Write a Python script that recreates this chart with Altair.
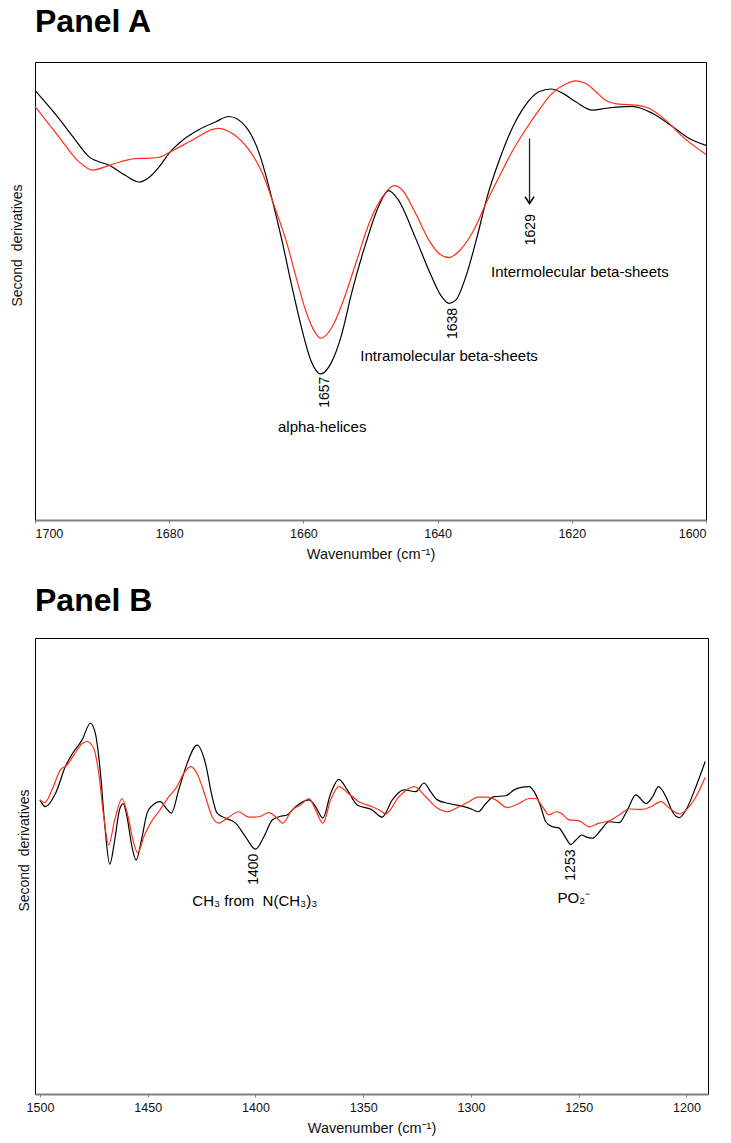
import altair as alt
import pandas as pd

FONT = "Liberation Sans"

# ---------------- Panel A (1700-1600 cm-1) ----------------
a_black_w = [1700, 1696.9, 1694.2, 1692.1, 1688.6, 1686.5, 1684.5, 1683.0, 1681.5, 1680.0,
             1678.0, 1675.6, 1673.1, 1671.1, 1668.6, 1666.6, 1665.4, 1664.4, 1663.1, 1661.7,
             1660.2, 1658.9, 1657.4, 1655.9, 1654.4, 1652.7, 1650.7, 1648.7, 1647.3, 1646.0,
             1643.3, 1641.0, 1639.5, 1638.3, 1637.3, 1635.8, 1634.1, 1632.6, 1630.8, 1628.9,
             1626.9, 1624.9, 1623.1, 1621.4, 1619.4, 1616.9, 1614.9, 1611.0, 1608.0, 1605.0,
             1602.5, 1600]
a_black_v = [93.8, 88.5, 83.4, 79.5, 77.2, 75.2, 73.8, 74.8, 77.1, 80.1,
             82.9, 85.2, 86.9, 88.1, 85.9, 80.1, 74.2, 68.4, 60.4, 50.9,
             41.5, 34.9, 31.9, 34.2, 40.0, 50.2, 60.4, 68.8, 71.9, 70.2,
             61.6, 53.5, 49.0, 47.3, 48.0, 53.1, 61.9, 70.6, 78.6, 85.5,
             90.6, 93.5, 94.1, 93.2, 91.3, 89.5, 89.9, 90.3, 88.8, 85.9,
             83.3, 81.8]
a_red_w = [1700, 1696.3, 1693.5, 1691.4, 1688.6, 1685.1, 1683.0, 1681.5, 1679.3, 1676.6,
           1672.8, 1670.6, 1668.1, 1666.1, 1664.4, 1662.6, 1661.1, 1659.7, 1658.2, 1657.4,
           1655.7, 1654.2, 1652.2, 1650.2, 1648.2, 1646.5, 1645.3, 1643.3, 1641.3, 1639.8,
           1638.3, 1636.6, 1634.6, 1632.8, 1630.8, 1628.9, 1626.9, 1624.9, 1622.9, 1620.9,
           1619.4, 1617.9, 1616.4, 1614.9, 1613.0, 1610.5, 1608.5, 1606.0, 1603.5, 1600]
a_red_v = [90.3, 83.4, 78.3, 76.4, 77.6, 78.9, 79.0, 79.2, 80.8, 82.9,
           85.5, 84.4, 80.8, 75.7, 68.8, 61.1, 53.1, 45.9, 40.8, 39.7,
           42.2, 47.3, 56.0, 64.8, 70.6, 73.0, 72.1, 67.0, 61.1, 58.2,
           57.3, 59.0, 63.3, 69.1, 75.0, 80.4, 85.2, 89.5, 93.2, 95.2,
           95.9, 95.3, 93.5, 91.6, 90.8, 90.6, 89.9, 87.3, 83.7, 79.8]
a_ticks = [1700, 1680, 1660, 1640, 1620, 1600]
a_peak_labels = ["1657", "1638", "1629"]
a_peak_w = [1656.8, 1637.7, 1626.1]
a_peak_v = [27.9, 42.9, 63.4]
a_band_labels = ["alpha-helices", "Intramolecular beta-sheets", "Intermolecular beta-sheets"]
a_band_w = [1657.2, 1638.3, 1618.8]
a_band_v = [20.4, 35.9, 54.1]
a_arrow_w = [1626.3]
a_arrow_from = [83.3]
a_arrow_to = [69.1]

# ---------------- Panel B (1500-1190 cm-1) ----------------
b_black_w = [1500, 1497.5, 1492.8, 1488.2, 1484.3, 1480.5, 1476.6, 1474.3, 1471.9, 1470.0,
             1467.6, 1465.3, 1463.1, 1461.4, 1459.6, 1457.3, 1455.4, 1452.6, 1450.3, 1448.0,
             1444.1, 1441.5, 1439.0, 1435.6, 1431.7, 1427.1, 1423.2, 1420.1, 1417.8, 1413.9,
             1409.2, 1404.6, 1400.0, 1396.1, 1392.2, 1389.1, 1385.3, 1381.4, 1375.2, 1372.1,
             1368.7, 1365.1, 1361.3, 1357.4, 1352.8, 1345.8, 1341.2, 1336.5, 1331.1, 1325.6,
             1321.8, 1318.7, 1315.6, 1310.2, 1302.4, 1299.3, 1296.6, 1293.1, 1289.3, 1283.8,
             1280.0, 1276.1, 1273.0, 1270.7, 1267.6, 1265.3, 1262.2, 1259.1, 1256.3, 1253.6,
             1251.3, 1248.5, 1246.7, 1243.6, 1239.7, 1235.9, 1231.2, 1227.4, 1223.5, 1218.8,
             1215.7, 1213.0, 1209.5, 1206.5, 1203.3, 1200.2, 1195.6, 1191.3]
b_black_v = [64.5, 63.0, 65.9, 71.8, 75.1, 77.6, 81.3, 79.1, 70.3, 59.4,
             50.4, 55.7, 62.3, 63.7, 60.8, 54.2, 51.3, 56.4, 61.6, 63.2,
             64.1, 62.7, 61.6, 66.7, 72.5, 76.5, 72.5, 65.2, 61.6, 60.5,
             59.4, 56.4, 53.7, 56.4, 60.1, 60.8, 61.2, 63.0, 64.5, 63.0,
             60.5, 65.9, 69.0, 66.7, 63.4, 62.3, 60.7, 64.5, 66.7, 66.3,
             68.2, 66.3, 64.5, 63.7, 62.9, 62.4, 61.9, 63.7, 65.2, 65.4,
             66.7, 67.3, 67.4, 66.3, 63.0, 59.7, 58.6, 58.3, 56.4, 54.7,
             55.7, 56.8, 56.4, 56.1, 57.9, 59.7, 59.5, 62.3, 65.6, 63.7,
             65.2, 67.4, 65.2, 61.9, 60.6, 62.3, 67.4, 72.9]
b_red_w = [1500, 1497.8, 1494.4, 1490.5, 1487.5, 1484.3, 1480.5, 1478.2, 1475.1, 1472.7,
           1470.4, 1468.1, 1465.3, 1461.9, 1459.1, 1456.5, 1454.6, 1451.8, 1448.7, 1444.9,
           1440.2, 1436.4, 1433.3, 1430.1, 1427.1, 1423.2, 1420.1, 1417.0, 1413.1, 1407.7,
           1403.1, 1398.4, 1393.8, 1390.4, 1387.3, 1383.0, 1379.1, 1375.2, 1372.1, 1368.7,
           1365.1, 1361.3, 1356.6, 1352.0, 1345.8, 1341.2, 1339.6, 1333.4, 1326.4, 1321.0,
           1315.6, 1311.0, 1305.5, 1300.9, 1297.0, 1292.4, 1288.5, 1283.1, 1277.7, 1273.0,
           1269.9, 1266.8, 1263.7, 1260.6, 1258.3, 1254.4, 1249.8, 1245.1, 1240.5, 1235.9,
           1231.2, 1226.6, 1220.4, 1216.5, 1211.8, 1208.0, 1203.3, 1198.7, 1194.8, 1191.3]
b_red_v = [64.5, 63.9, 66.7, 71.1, 72.1, 74.3, 76.8, 77.3, 75.8, 70.3,
           60.8, 54.6, 60.1, 64.8, 60.8, 55.0, 52.9, 56.4, 59.4, 61.9,
           65.2, 67.4, 70.3, 71.8, 70.3, 65.2, 60.8, 59.4, 60.5, 61.9,
           60.7, 60.8, 61.7, 60.7, 59.4, 62.3, 63.4, 64.8, 62.3, 59.4,
           64.5, 67.4, 65.8, 64.1, 63.0, 61.9, 61.4, 65.2, 67.4, 65.2,
           62.7, 61.9, 63.0, 64.1, 65.1, 65.1, 64.5, 62.8, 63.7, 64.8,
           64.8, 63.0, 61.2, 61.9, 61.6, 60.1, 59.9, 58.6, 59.4, 59.9,
           61.2, 62.5, 62.4, 63.0, 64.1, 62.7, 61.4, 63.0, 65.9, 69.4]
b_ticks = [1500, 1450, 1400, 1350, 1300, 1250, 1200]
b_peak_labels = ["1400", "1253"]
b_peak_w = [1400.7, 1253.4]
b_peak_v = [49.3, 50.2]
b_band_labels = ["CH\u2083 from\u00a0 N(CH\u2083)\u2083", "PO\u2082\u207b"]
b_band_w = [1400.3, 1252.3]
b_band_v = [42.4, 43.0]

X_TITLE = "Wavenumber (cm\u207b\u00b9)"
Y_TITLE = "Second\u00a0 derivatives"


def lines_frame(bw, bv, rw, rv):
    return pd.DataFrame({"w": bw + rw, "v": bv + rv,
                         "s": ["black"] * len(bw) + ["red"] * len(rw)})


def make_panel(title, lines_df, xdom, xticks, width, height, peaks_df, bands_df,
               ytx, yty, toff, arrow_df=None):
    x = alt.X("w:Q",
              scale=alt.Scale(domain=xdom, reverse=True, nice=False, zero=False),
              axis=alt.Axis(values=xticks, format="d", title=X_TITLE, grid=False))
    y = alt.Y("v:Q",
              scale=alt.Scale(domain=[0, 100], nice=False, zero=False),
              axis=alt.Axis(title=Y_TITLE, labels=False, ticks=False, domain=False,
                            grid=False, titleX=ytx, titleY=yty))
    lines = alt.Chart(lines_df).mark_line(strokeWidth=1.2, interpolate="monotone").encode(
        x=x, y=y,
        color=alt.Color("s:N", scale=alt.Scale(domain=["black", "red"],
                                               range=["#000000", "#ff3019"]), legend=None),
        order=alt.Order("w:Q", sort="descending"))
    peaks = alt.Chart(peaks_df).mark_text(angle=270, fontSize=14, font=FONT, color="black",
                                          align="center", baseline="middle").encode(
        x=x, y=y, text="t:N")
    bands = alt.Chart(bands_df).mark_text(fontSize=15, font=FONT, color="black",
                                          align="center", baseline="middle").encode(
        x=x, y=y, text="t:N")
    layers = [lines, peaks, bands]
    if arrow_df is not None:
        shaft = alt.Chart(arrow_df).mark_rule(color="#222222", strokeWidth=1.3).encode(
            x=x, y=y, y2="v2:Q")
        head = alt.Chart(arrow_df).mark_point(shape="M -1 -1.5 L 0 0 L 1 -1.5", size=81,
                                              filled=False, color="#111111",
                                              strokeWidth=1.6, opacity=1).encode(
            x=x, y=alt.Y("v2:Q"))
        layers += [shaft, head]
    return alt.layer(*layers).properties(
        width=width, height=height,
        title=alt.TitleParams(title, anchor="start", frame="group", fontSize=32,
                              fontWeight="bold", font=FONT, color="black", offset=toff))


a_lines = lines_frame(a_black_w, a_black_v, a_red_w, a_red_v)
a_peaks = pd.DataFrame({"t": a_peak_labels, "w": a_peak_w, "v": a_peak_v})
a_bands = pd.DataFrame({"t": a_band_labels, "w": a_band_w, "v": a_band_v})
a_arrow = pd.DataFrame({"w": a_arrow_w, "v": a_arrow_from, "v2": a_arrow_to})

b_lines = lines_frame(b_black_w, b_black_v, b_red_w, b_red_v)
b_peaks = pd.DataFrame({"t": b_peak_labels, "w": b_peak_w, "v": b_peak_v})
b_bands = pd.DataFrame({"t": b_band_labels, "w": b_band_w, "v": b_band_v})

panel_a = make_panel("Panel A", a_lines, [1600, 1700], a_ticks, 671, 458,
                     a_peaks, a_bands, -11, 183, 23, a_arrow)
panel_b = make_panel("Panel B", b_lines, [1190, 1502.3], b_ticks, 673, 456,
                     b_peaks, b_bands, -4, 212, 20)

chart = alt.vconcat(panel_a, panel_b, spacing=22).properties(
    padding={"left": 9, "top": 5, "right": 0, "bottom": 5},
    background="white",
).configure_view(
    stroke="black", strokeWidth=1
).configure_axisX(
    domainColor="#808080", domainWidth=2, tickColor="#808080", tickSize=3,
    labelFont=FONT, labelFontSize=12.5, labelColor="#111111", labelPadding=4,
    titleFont=FONT, titleFontSize=14.5, titleFontWeight="normal", titleColor="#111111",
    titlePadding=8
).configure_axisY(
    titleFont=FONT, titleFontSize=14, titleFontWeight="normal", titleColor="#111111"
)

chart.save("out.html", embed_options={"renderer": "svg", "actions": False})
